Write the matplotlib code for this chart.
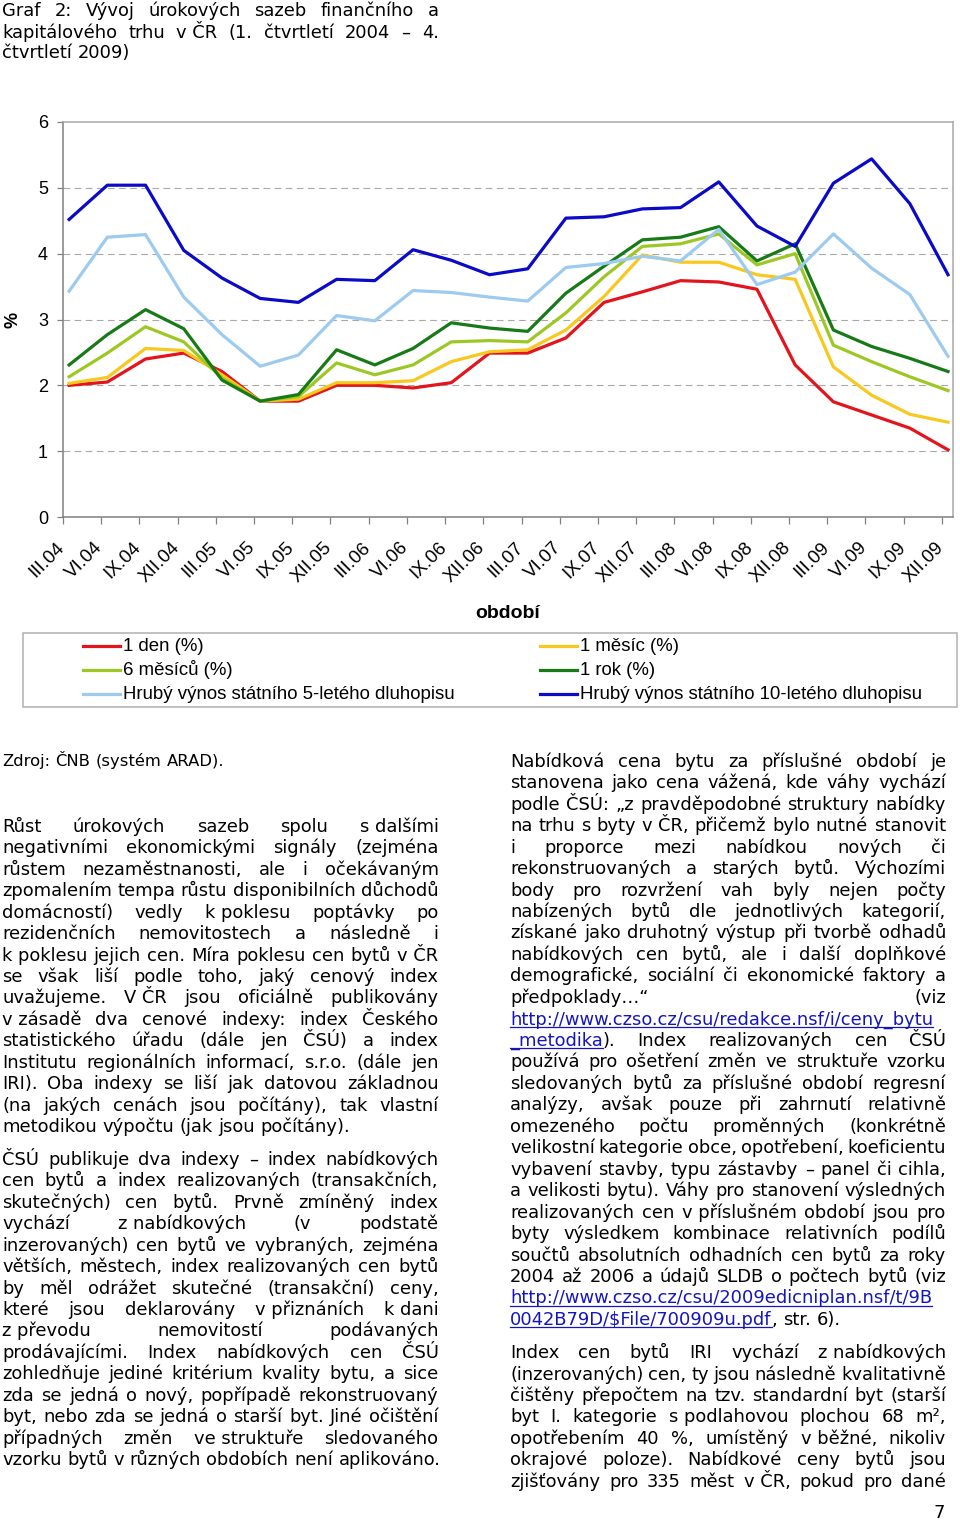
import re
import numpy as np
import matplotlib
matplotlib.use('Agg')
import matplotlib.pyplot as plt
from matplotlib.patches import Rectangle
from matplotlib.transforms import ScaledTranslation

# --- data ---
ctvrtleti = ['III.04', 'VI.04', 'IX.04', 'XII.04', 'III.05', 'VI.05', 'IX.05', 'XII.05',
             'III.06', 'VI.06', 'IX.06', 'XII.06', 'III.07', 'VI.07', 'IX.07', 'XII.07',
             'III.08', 'VI.08', 'IX.08', 'XII.08', 'III.09', 'VI.09', 'IX.09', 'XII.09']
den_1 = [2.00, 2.05, 2.40, 2.49, 2.21, 1.76, 1.76, 2.00, 2.00, 1.96, 2.04, 2.49,
         2.49, 2.72, 3.26, 3.42, 3.59, 3.57, 3.46, 2.31, 1.75, 1.55, 1.35, 1.02]
mesic_1 = [2.03, 2.12, 2.56, 2.53, 2.16, 1.76, 1.79, 2.04, 2.04, 2.07, 2.36, 2.51,
           2.54, 2.84, 3.35, 3.98, 3.87, 3.87, 3.68, 3.61, 2.28, 1.85, 1.56, 1.44]
mesicu_6 = [2.13, 2.49, 2.89, 2.66, 2.11, 1.76, 1.83, 2.34, 2.16, 2.31, 2.66, 2.68,
            2.66, 3.10, 3.65, 4.11, 4.15, 4.30, 3.83, 4.00, 2.61, 2.36, 2.13, 1.92]
rok_1 = [2.31, 2.77, 3.15, 2.86, 2.08, 1.76, 1.86, 2.54, 2.31, 2.56, 2.95, 2.87,
         2.82, 3.40, 3.81, 4.21, 4.25, 4.41, 3.89, 4.15, 2.84, 2.59, 2.41, 2.21]
dluhopis_5 = [3.43, 4.25, 4.29, 3.34, 2.77, 2.29, 2.46, 3.06, 2.98, 3.44, 3.41, 3.34,
              3.28, 3.79, 3.85, 3.96, 3.89, 4.37, 3.53, 3.72, 4.30, 3.78, 3.38, 2.44]
dluhopis_10 = [4.52, 5.04, 5.04, 4.05, 3.63, 3.32, 3.26, 3.61, 3.59, 4.06, 3.90, 3.68,
               3.77, 4.54, 4.56, 4.68, 4.70, 5.09, 4.42, 4.11, 5.07, 5.44, 4.76, 3.68]

nazvy = ['1 den (%)', '1 měsíc (%)', '6 měsíců (%)', '1 rok (%)',
         'Hrubý výnos státního 5-letého dluhopisu', 'Hrubý výnos státního 10-letého dluhopisu']
barvy = ['#e3141b', '#f9c81e', '#9dc824', '#167a16', '#9dcbef', '#0a0ac8']

N = '\u00a0'
nadpis = ['Graf 2: Vývoj úrokových sazeb finančního a',
          'kapitálového trhu v' + N + 'ČR (1. čtvrtletí 2004 – 4.',
          'čtvrtletí 2009)']

odst_1 = ['Růst úrokových sazeb spolu s' + N + 'dalšími',
          'negativními ekonomickými signály (zejména',
          'růstem nezaměstnanosti, ale i očekávaným',
          'zpomalením tempa růstu disponibilních důchodů',
          'domácností) vedly k' + N + 'poklesu poptávky po',
          'rezidenčních nemovitostech a následně i',
          'k' + N + 'poklesu jejich cen. Míra poklesu cen bytů v' + N + 'ČR',
          'se však liší podle toho, jaký cenový index',
          'uvažujeme. V' + N + 'ČR jsou oficiálně publikovány',
          'v' + N + 'zásadě dva cenové indexy: index Českého',
          'statistického úřadu (dále jen ČSÚ) a index',
          'Institutu regionálních informací, s.r.o. (dále jen',
          'IRI). Oba indexy se liší jak datovou základnou',
          '(na jakých cenách jsou počítány), tak vlastní',
          'metodikou výpočtu (jak jsou počítány).']

odst_2 = ['ČSÚ publikuje dva indexy – index nabídkových',
          'cen bytů a index realizovaných (transakčních,',
          'skutečných) cen bytů. Prvně zmíněný index',
          'vychází z' + N + 'nabídkových (v podstatě',
          'inzerovaných) cen bytů ve vybraných, zejména',
          'větších, městech, index realizovaných cen bytů',
          'by měl odrážet skutečné (transakční) ceny,',
          'které jsou deklarovány v' + N + 'přiznáních k' + N + 'dani',
          'z' + N + 'převodu nemovitostí podávaných',
          'prodávajícími. Index nabídkových cen ČSÚ',
          'zohledňuje jediné kritérium kvality bytu, a sice',
          'zda se jedná o nový, popřípadě rekonstruovaný',
          'byt, nebo zda se jedná o starší byt. Jiné očištění',
          'případných změn ve' + N + 'struktuře sledovaného',
          'vzorku bytů v různých obdobích není aplikováno.']

odst_3 = ['Nabídková cena bytu za příslušné období je',
          'stanovena jako cena vážená, kde váhy vychází',
          'podle ČSÚ: „z pravděpodobné struktury nabídky',
          'na trhu s byty v ČR, přičemž bylo nutné stanovit',
          'i proporce mezi nabídkou nových či',
          'rekonstruovaných a starých bytů. Výchozími',
          'body pro rozvržení vah byly nejen počty',
          'nabízených bytů dle jednotlivých kategorií,',
          'získané jako druhotný výstup při tvorbě odhadů',
          'nabídkových cen bytů, ale i další doplňkové',
          'demografické, sociální či ekonomické faktory a',
          'předpoklady…“ (viz',
          '{http://www.czso.cz/csu/redakce.nsf/i/ceny_bytu}',
          '{_metodika}). Index realizovaných cen ČSÚ',
          'používá pro ošetření změn ve struktuře vzorku',
          'sledovaných bytů za příslušné období regresní',
          'analýzy, avšak pouze při zahrnutí relativně',
          'omezeného počtu proměnných (konkrétně',
          'velikostní kategorie obce, opotřebení, koeficientu',
          'vybavení stavby, typu zástavby – panel či cihla,',
          'a velikosti bytu). Váhy pro stanovení výsledných',
          'realizovaných cen v' + N + 'příslušném období jsou pro',
          'byty výsledkem kombinace relativních podílů',
          'součtů absolutních odhadních cen bytů za roky',
          '2004 až 2006 a údajů SLDB o počtech bytů (viz',
          '{http://www.czso.cz/csu/2009edicniplan.nsf/t/9B}',
          '{0042B79D/$File/700909u.pdf}, str. 6).']

# odstavec pokračuje na další straně, proto je i poslední řádek do bloku
odst_4 = ['Index cen bytů IRI vychází z' + N + 'nabídkových',
          '(inzerovaných) cen, ty jsou následně kvalitativně',
          'čištěny přepočtem na tzv. standardní byt (starší',
          'byt I. kategorie s' + N + 'podlahovou plochou 68 m²,',
          'opotřebením 40 %, umístěný v' + N + 'běžné, nikoliv',
          'okrajové poloze). Nabídkové ceny bytů jsou',
          'zjišťovány pro 335 měst v' + N + 'ČR, pokud pro dané']

plt.rcParams['font.family'] = ['Liberation Sans', 'DejaVu Sans']

fig = plt.figure(figsize=(9.6, 15.21), dpi=100)
page = fig.add_axes([0, 0, 1, 1])
page.set_xlim(0, 960)
page.set_ylim(1521, 0)
page.axis('off')
r = fig.canvas.get_renderer()

PISMO = 'DejaVu Sans'
VEL = 12.9
MODRA = '#1515c0'


def sirka(s, vel=VEL):
    t = page.text(0, 0, s, fontsize=vel, family=PISMO)
    w = t.get_window_extent(r).width
    t.remove()
    return w


def radek(txt, x0, x1, y, zarovnat=True, vel=VEL):
    slova = []
    for s in txt.split(' '):
        casti = [c for c in re.split(r'(\{[^}]*\})', s) if c]
        casti = [(c[1:-1], True) if c.startswith('{') else (c, False) for c in casti]
        slova.append([(c, odkaz, sirka(c, vel)) for c, odkaz in casti])
    celkem = sum(w for sl in slova for _, _, w in sl)
    if zarovnat and len(slova) > 1:
        mezera = (x1 - x0 - celkem) / (len(slova) - 1)
    else:
        mezera = sirka('a a', vel) - sirka('aa', vel)
    x = x0
    for sl in slova:
        for c, odkaz, w in sl:
            page.text(x, y, c, fontsize=vel, family=PISMO, va='baseline',
                      color=MODRA if odkaz else 'black')
            if odkaz:
                page.plot([x, x + w], [y + 2.5, y + 2.5], color=MODRA, lw=0.9)
            x += w
        x += mezera


def odstavec(radky, x0, x1, y0, dy, konec=True):
    for i, t in enumerate(radky):
        posledni = konec and i == len(radky) - 1
        zarovnat = not posledni and not t.startswith('{http')
        radek(t, x0, x1, y0 + i * dy, zarovnat)


odstavec(nadpis, 2, 438.5, 16.5, 21)
radek('Zdroj: ČNB (systém ARAD).', 2, 438.5, 766, False, vel=11.8)
odstavec(odst_1, 2, 438.5, 831.7, 21.47)
odstavec(odst_2, 2, 438.5, 1165, 21.43)
odstavec(odst_3, 510, 946, 766.7, 21.47)
odstavec(odst_4, 510, 946, 1358.3, 21.4, konec=False)
page.text(945, 1518, '7', fontsize=VEL, family=PISMO, ha='right', va='baseline')

# --- graf ---
ax = fig.add_axes([63 / 960, 1 - 517 / 1521, 890 / 960, 395 / 1521])
x = np.arange(len(ctvrtleti))
posun = 0.16
rady = [den_1, mesic_1, mesicu_6, rok_1, dluhopis_5, dluhopis_10]
for hodnoty, barva, jmeno in zip(rady, barvy, nazvy):
    ax.plot(x + posun, hodnoty, color=barva, lw=2.3, label=jmeno, zorder=3)

ax.set_xlim(0, 23.29)
ax.set_ylim(0, 6)
ax.set_yticks(range(7))
ax.set_xticks(x)
ax.set_xticklabels(ctvrtleti, rotation=45, ha='right', va='top', rotation_mode='anchor')
for h in range(1, 6):
    ax.axhline(h, color='#a8a8a8', lw=0.8, ls=(0, (6, 4)), zorder=1)
ax.tick_params(axis='y', length=4.3, width=0.9, color='#808080', pad=6.5, labelsize=13)
ax.tick_params(axis='x', length=5, width=0.9, color='#808080', pad=9.5, labelsize=13.5)
# popisky os x posunout doleva, aby končily u značky
posuv = ScaledTranslation(-7 / 100, -2 / 100, fig.dpi_scale_trans)
for lab in ax.get_xticklabels():
    lab.set_transform(lab.get_transform() + posuv)
for s in ['left', 'bottom']:
    ax.spines[s].set_color('#808080')
    ax.spines[s].set_linewidth(1.1)
for s in ['top', 'right']:
    ax.spines[s].set_color('#a8a8a8')
    ax.spines[s].set_linewidth(1.1)

page.text(13, 320, '%', fontsize=13, fontweight='bold', rotation=90, ha='center', va='center')
page.text(508, 618, 'období', fontsize=14, fontweight='bold', ha='center', va='baseline')

# --- legenda ---
page.add_patch(Rectangle((23, 633), 934, 74, fill=False, ec='#b0b0b0', lw=1.1))
pozice = [(83, 0), (540, 0), (83, 1), (540, 1), (83, 2), (540, 2)]
for (lx, radek_i), barva, jmeno in zip(pozice, barvy, nazvy):
    yl = 646 + radek_i * 24
    page.plot([lx, lx + 37], [yl, yl], color=barva, lw=2.3)
    page.text(lx + 40, yl + 5, jmeno, fontsize=13.4, va='baseline')

fig.savefig('out.png', dpi=100)
